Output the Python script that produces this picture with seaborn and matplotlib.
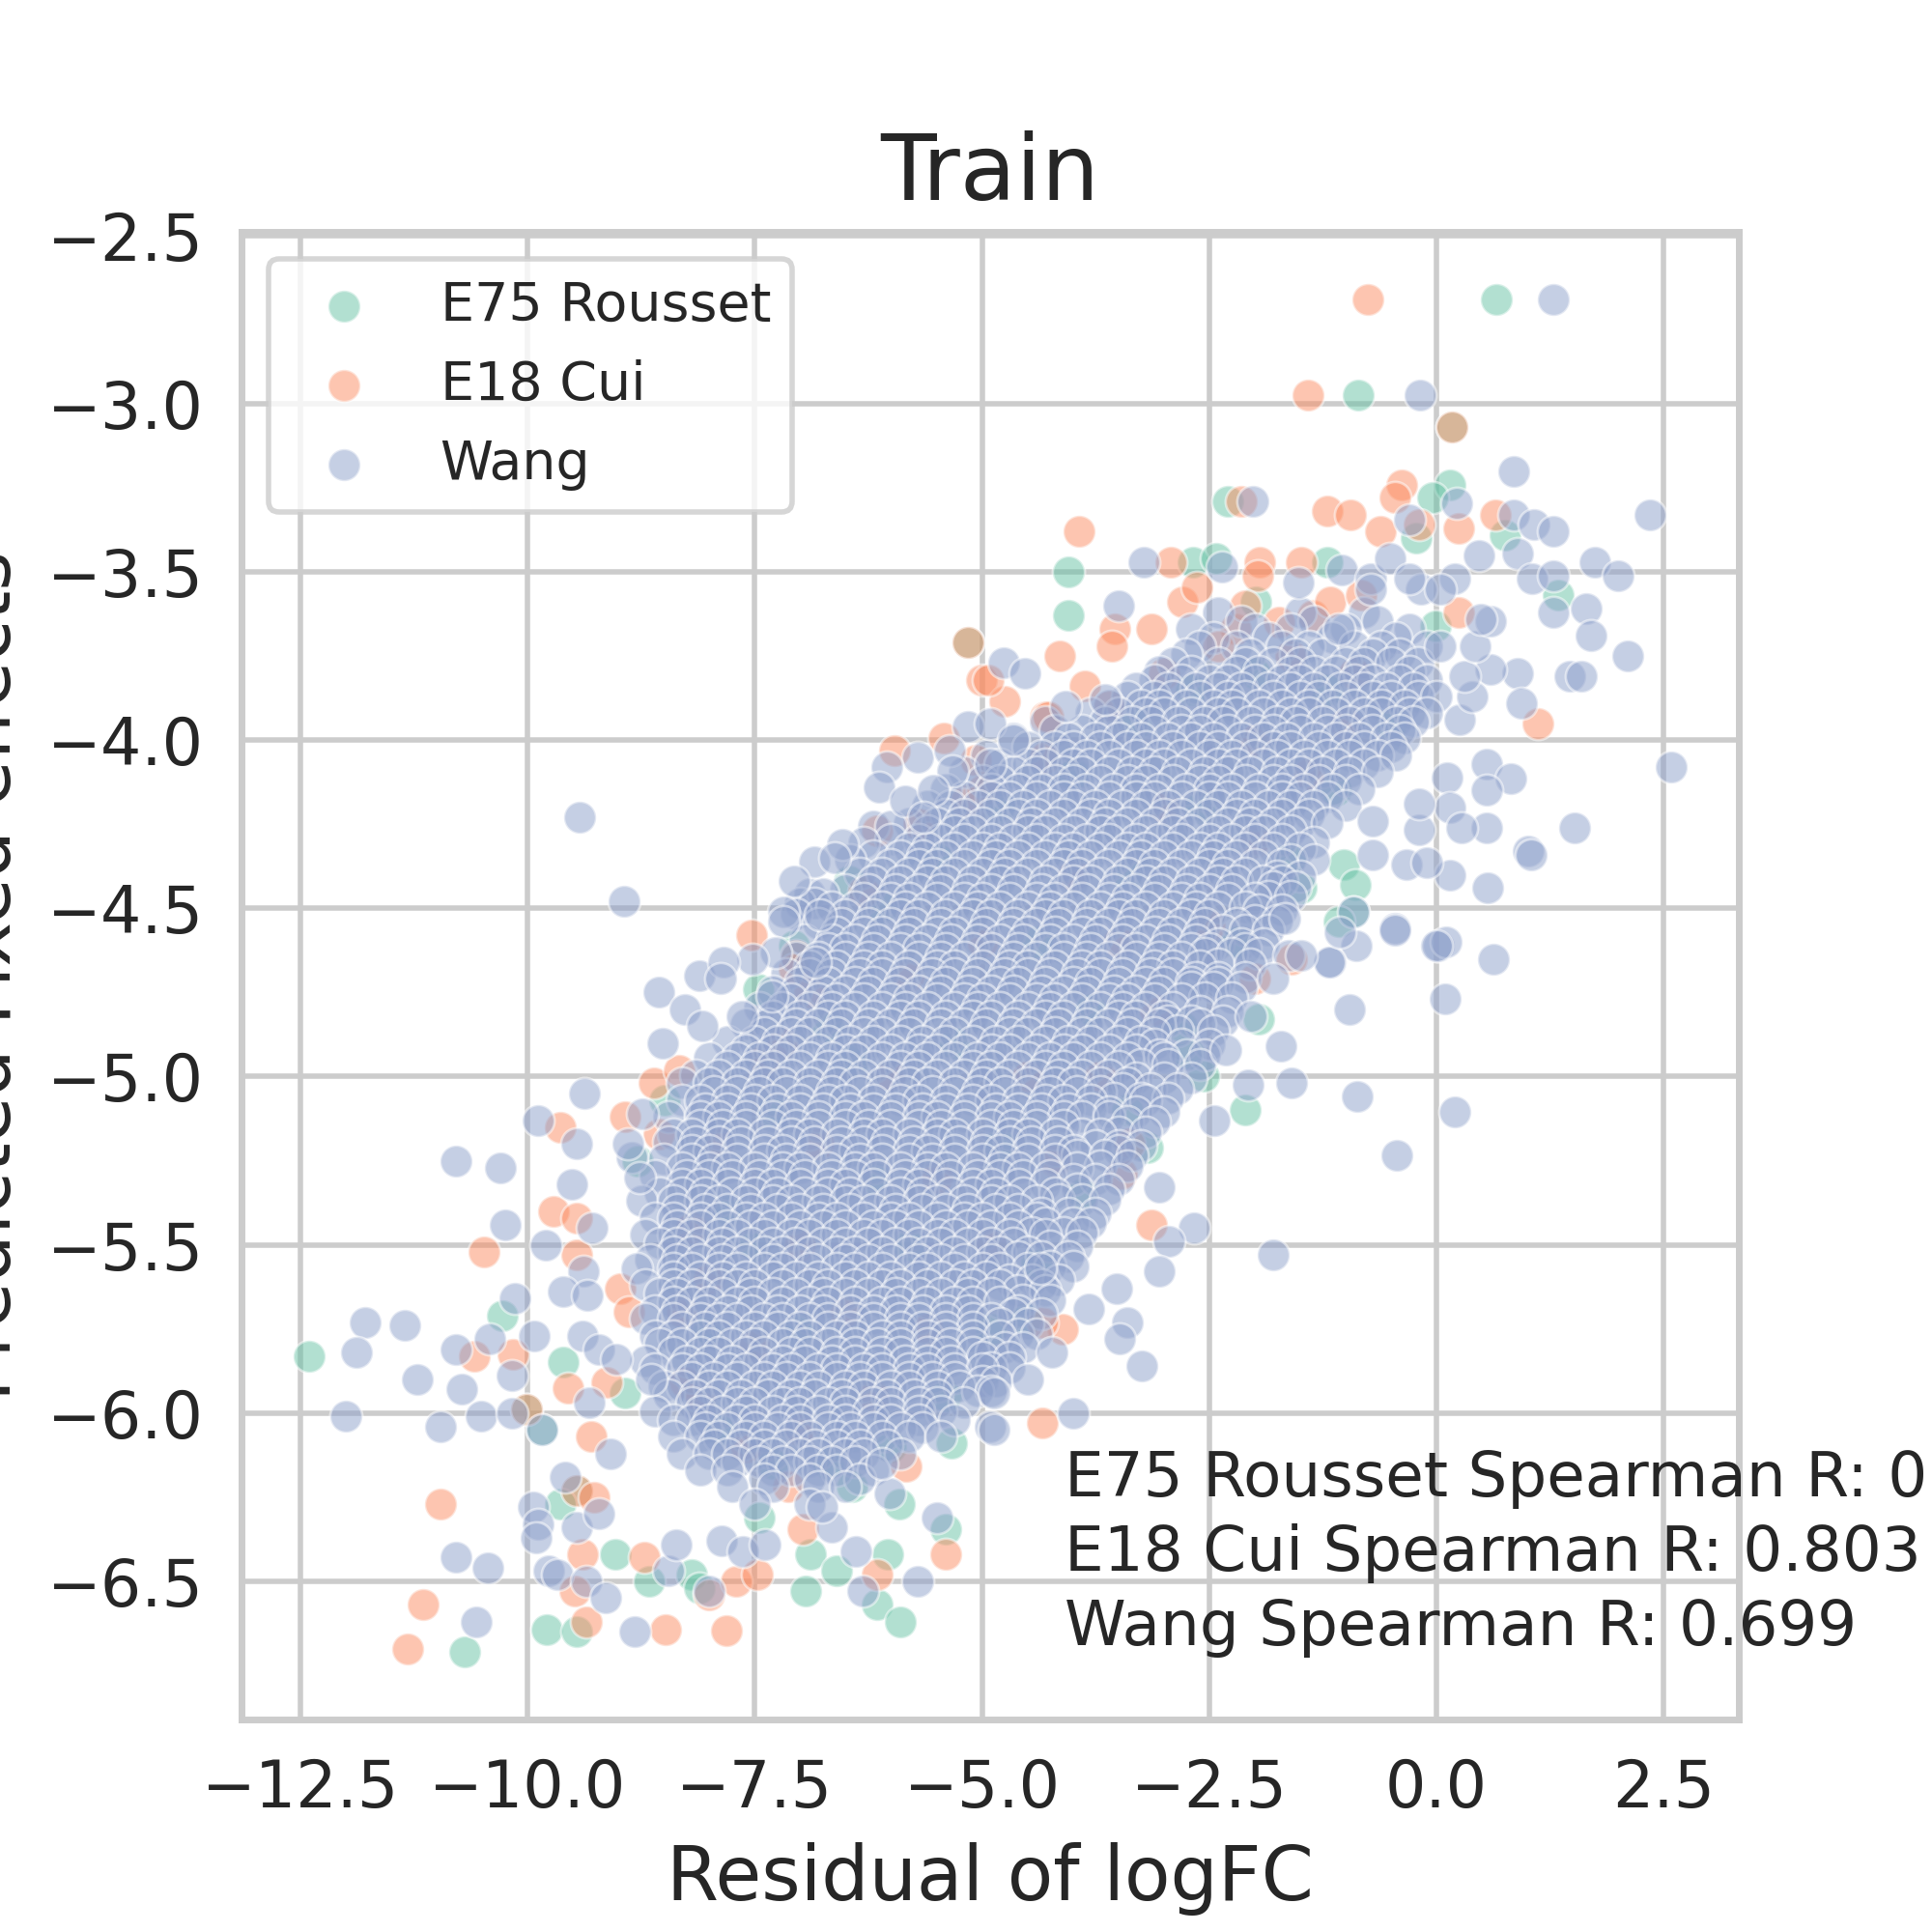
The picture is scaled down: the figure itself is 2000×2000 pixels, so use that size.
import numpy as np
import pandas as pd
import matplotlib
matplotlib.use("Agg")
import matplotlib.pyplot as plt
import seaborn as sns

# values
datasets = ["E75 Rousset", "E18 Cui", "Wang"]
spearman = [0.789, 0.803, 0.699]

# E75 Rousset, scattered points (residual, predicted)
rousset_pts = [
    (-12.40, -5.83), (-10.28, -5.71), (-10.01, -5.99), (-9.84, -6.05), (-9.61, -5.85),
    (-8.93, -5.94), (-9.46, -6.23), (-9.64, -6.27), (-10.69, -6.71), (-9.04, -6.42),
    (-9.79, -6.645), (-9.46, -6.65), (-8.66, -6.50), (-8.19, -6.48), (-8.11, -6.52),
    (-7.45, -6.31), (-6.89, -6.42), (-6.60, -6.47), (-6.94, -6.53), (-6.04, -6.42),
    (-6.15, -6.57), (-5.90, -6.62), (-5.40, -6.345), (-5.91, -6.27), (-6.43, -6.22),
    (-5.33, -6.09), (-8.49, -5.07), (-8.79, -5.25), (-5.15, -3.71), (-4.05, -3.50),
    (-4.05, -3.63), (-6.46, -4.42), (-7.07, -4.61), (-7.46, -4.74), (0.66, -2.69),
    (-0.86, -2.975), (0.175, -3.07), (0.15, -3.24), (-2.29, -3.29), (-0.04, -3.28),
    (-0.22, -3.40), (0.76, -3.39), (1.34, -3.57), (-2.68, -3.47), (-2.42, -3.46),
    (-1.20, -3.47), (-1.99, -3.59), (-0.01, -3.66), (-1.02, -4.37), (-0.89, -4.43),
    (-0.91, -4.51), (-1.07, -4.54), (-1.485, -4.44), (-2.10, -5.10), (-3.18, -5.21),
    (-2.73, -4.93), (-2.56, -5.00), (-1.95, -4.83), (-4.52, -5.72),
    (-6.1, -4.5), (-6.7, -4.85), (-7.3, -5.1), (-7.8, -5.4), (-8.0, -5.75), (-7.9, -6.05),
    (-5.5, -4.35), (-4.8, -4.2), (-4.0, -4.1), (-3.3, -3.95), (-2.7, -3.85), (-2.0, -3.8),
    (-1.2, -3.85), (-0.5, -3.95), (-1.1, -4.15), (-1.6, -4.35), (-2.2, -4.6), (-2.8, -4.85),
    (-3.4, -5.1), (-3.9, -5.35), (-4.4, -5.55), (-4.9, -5.75), (-5.4, -5.95), (-6.0, -6.1),
    (-6.7, -6.15), (-7.3, -6.15), (-6.2, -5.3), (-5.3, -4.9), (-4.4, -4.6), (-3.4, -4.4),
    (-2.6, -4.2), (-7.0, -5.75), (-5.8, -5.5), (-4.8, -5.2), (-3.8, -4.8), (-6.4, -4.95),
    (-7.5, -5.5),
]

# E18 Cui, scattered points
cui_pts = [
    (-10.48, -5.52), (-10.59, -5.83), (-10.16, -5.825), (-10.01, -5.99), (-9.71, -5.40),
    (-9.64, -5.15), (-9.46, -5.42), (-9.46, -5.53), (-8.98, -5.63), (-8.89, -5.70),
    (-9.13, -5.91), (-9.56, -5.925), (-9.30, -6.07), (-8.27, -5.91), (-9.46, -6.23),
    (-9.27, -6.25), (-10.96, -6.27), (-11.15, -6.57), (-11.32, -6.70), (-9.40, -6.42),
    (-9.48, -6.53), (-9.35, -6.62), (-8.48, -6.645), (-7.81, -6.647), (-8.72, -6.43),
    (-8.00, -6.54), (-7.71, -6.50), (-7.47, -6.48), (-6.97, -6.345), (-6.15, -6.48),
    (-5.40, -6.42), (-7.13, -6.22), (-5.83, -6.16), (-8.61, -5.02), (-8.93, -5.12),
    (-8.33, -4.98), (-8.56, -5.17), (-5.15, -3.71), (-5.01, -3.82), (-4.75, -3.885),
    (-4.14, -3.75), (-4.30, -3.93), (-5.96, -4.03), (-5.42, -3.995), (-5.07, -4.06),
    (-5.18, -4.18), (-6.15, -4.27), (-7.54, -4.58), (-7.05, -4.64), (-7.07, -4.68),
    (-0.75, -2.69), (-1.41, -2.975), (0.175, -3.07), (-0.38, -3.24), (-2.15, -3.29),
    (-1.20, -3.32), (-0.94, -3.33), (-0.46, -3.28), (-0.195, -3.36), (0.25, -3.37),
    (0.65, -3.33), (1.12, -3.95), (0.25, -3.62), (-3.93, -3.38), (-4.93, -3.82),
    (-3.87, -3.84), (-4.27, -3.93), (-3.54, -3.67), (-3.57, -3.72), (-3.13, -3.67),
    (-2.92, -3.47), (-2.79, -3.59), (-2.63, -3.545), (-1.94, -3.47), (-1.97, -3.51),
    (-1.49, -3.47), (-2.21, -3.67), (-2.10, -3.60), (-1.73, -3.65), (-1.36, -3.63),
    (-1.17, -3.59), (-0.83, -3.57), (-0.62, -3.38), (-3.13, -5.44), (-4.34, -6.03),
    (-4.11, -5.75), (-4.34, -5.73), (-3.38, -5.20), (-3.46, -5.29), (-1.59, -4.65),
    (-2.00, -4.71),
    (-6.3, -4.45), (-6.9, -4.75), (-7.4, -4.95), (-7.9, -5.2), (-8.2, -5.45), (-8.3, -5.7),
    (-8.1, -5.95), (-5.7, -4.25), (-5.0, -4.15), (-4.3, -4.05), (-3.6, -3.9), (-3.0, -3.8),
    (-2.4, -3.72), (-1.6, -3.75), (-0.9, -3.8), (-7.6, -6.1), (-7.0, -6.05), (-6.2, -5.95),
    (-5.6, -5.75), (-4.9, -5.5), (-4.2, -5.25), (-3.7, -5.0), (-3.1, -4.8), (-2.5, -4.55),
    (-2.0, -4.3), (-1.4, -4.1), (-6.0, -5.0), (-5.0, -4.6), (-7.0, -5.5), (-4.0, -4.4),
    (-3.0, -4.2), (-6.5, -5.7), (-5.5, -5.3), (-4.5, -5.0), (-2.0, -4.0), (-1.0, -3.95),
    (-7.5, -5.8), (-6.8, -5.2), (-5.8, -4.7), (-3.5, -4.6), (-8.0, -5.6), (-7.2, -4.9),
]

# Wang, scattered points around the dense band
wang_pts = [
    (-11.79, -5.73), (-11.35, -5.74), (-11.885, -5.82), (-11.21, -5.90), (-12.0, -6.01),
    (-10.79, -5.25), (-10.30, -5.27), (-10.25, -5.44), (-10.73, -5.93), (-10.79, -5.81),
    (-10.96, -6.04), (-10.51, -6.01), (-10.42, -5.78), (-10.14, -5.66), (-10.17, -5.89),
    (-10.17, -6.00), (-9.84, -6.05), (-9.93, -5.77), (-9.80, -5.50), (-9.51, -5.32),
    (-9.37, -5.05), (-9.88, -5.13), (-9.46, -5.20), (-9.29, -5.45), (-9.39, -5.58),
    (-9.61, -5.64), (-9.34, -5.65), (-9.40, -5.77), (-9.22, -5.81), (-9.02, -5.84),
    (-9.32, -5.97), (-9.09, -6.12), (-8.64, -5.90), (-9.59, -6.19), (-9.94, -6.28),
    (-9.88, -6.33), (-9.91, -6.37), (-9.46, -6.34), (-9.22, -6.30), (-10.79, -6.43),
    (-10.44, -6.46), (-10.57, -6.62), (-9.77, -6.47), (-9.67, -6.48), (-9.35, -6.50),
    (-9.14, -6.55), (-8.82, -6.65), (-8.45, -6.47), (-8.37, -6.39), (-8.00, -6.53),
    (-7.87, -6.38), (-7.63, -6.41), (-7.39, -6.39), (-6.39, -6.41), (-6.31, -6.53),
    (-5.71, -6.50), (-5.49, -6.31), (-6.65, -6.34), (-6.76, -6.28), (-6.02, -6.24),
    (-6.10, -6.15), (-4.91, -6.04), (-8.56, -4.75), (-8.27, -4.80), (-8.08, -4.85),
    (-8.51, -4.90), (-8.11, -4.70), (-8.74, -5.11), (-8.85, -5.24), (-8.77, -5.30),
    (-8.90, -5.20), (-9.43, -4.23), (-8.94, -4.48), (-4.76, -3.77), (-4.53, -3.80),
    (-5.15, -3.96), (-4.91, -3.95), (-4.65, -4.00), (-5.71, -4.05), (-5.36, -4.03),
    (-5.32, -4.09), (-6.05, -4.08), (-6.13, -4.14), (-5.85, -4.18), (-4.91, -4.07),
    (-5.54, -4.15), (-5.64, -4.23), (-6.54, -4.31), (-6.85, -4.36), (-6.62, -4.35),
    (-7.07, -4.42), (-7.19, -4.51), (-7.19, -4.54), (-6.78, -4.52), (-7.27, -4.63),
    (-7.52, -4.65), (-7.84, -4.66), (-7.88, -4.71), (-7.64, -4.82), (-7.31, -4.76),
    (-6.83, -4.66), (1.29, -2.69), (-0.18, -2.975), (0.85, -3.20), (2.35, -3.33),
    (-2.02, -3.29), (-0.30, -3.345), (0.23, -3.295), (0.85, -3.33), (1.07, -3.36),
    (1.29, -3.38), (0.89, -3.445), (0.47, -3.45), (1.05, -3.52), (1.29, -3.51),
    (1.74, -3.47), (2.00, -3.51), (1.29, -3.62), (1.65, -3.61), (1.70, -3.69),
    (2.11, -3.75), (1.47, -3.81), (1.60, -3.81), (0.89, -3.80), (0.60, -3.79),
    (0.94, -3.89), (2.58, -4.08), (0.55, -4.07), (0.12, -4.11), (0.82, -4.115),
    (0.55, -4.15), (0.15, -4.20), (1.52, -4.26), (0.55, -4.26), (0.28, -4.26),
    (1.01, -4.33), (1.04, -4.34), (0.15, -4.40), (0.57, -4.44), (-0.195, -4.265),
    (-0.33, -4.37), (-0.10, -4.365), (-0.46, -4.56), (0.02, -4.61), (0.11, -4.60),
    (0.63, -4.65), (-0.88, -4.61), (-1.17, -4.66), (-0.91, -4.51), (-0.70, -4.34),
    (-0.195, -4.19), (-0.70, -4.24), (0.26, -3.94), (0.39, -3.87), (0.31, -3.81),
    (0.43, -3.72), (0.60, -3.645), (0.49, -3.64), (0.20, -3.52), (-0.17, -3.55),
    (0.04, -3.55), (0.04, -3.72), (-3.50, -3.60), (-3.65, -3.88), (-4.08, -3.90),
    (-3.22, -3.47), (-2.36, -3.485), (-1.04, -3.495), (-1.52, -3.53), (-0.72, -3.52),
    (-1.07, -3.67), (-0.51, -3.46), (-0.72, -3.55), (-0.30, -3.52), (0.10, -4.77),
    (0.20, -5.105), (-0.435, -5.235), (-0.87, -5.06), (-0.96, -4.80), (-0.455, -4.565),
    (0.0, -4.61), (-1.18, -4.66), (-1.06, -4.57), (-1.59, -5.02), (-1.71, -4.91),
    (-2.075, -5.025), (-2.44, -5.13), (-1.79, -5.53), (-2.67, -5.45), (-2.94, -5.49),
    (-3.05, -5.58), (-3.52, -5.63), (-3.40, -5.73), (-3.49, -5.78), (-3.24, -5.86),
    (-3.83, -5.69), (-4.23, -5.82), (-4.50, -5.90), (-4.87, -5.94), (-4.00, -6.00),
    (-4.87, -6.05), (-4.36, -5.57), (-3.05, -5.33), (-2.32, -4.92), (-2.035, -4.82),
    (-1.63, -4.64), (-1.485, -4.64), (-1.79, -4.71), (-1.67, -4.53),
]

# Wang, dense band: predicted value of a row, then residuals read along it
wang_band = [
    (-3.62, [-2.4, -1.5, -0.8]),
    (-3.645, [-2.15, -1.35, -0.65]),
    (-3.67, [-2.7, -2.0, -1.6, -1.0, -0.3]),
    (-3.695, [-2.45, -1.85, -1.15, -0.45]),
    (-3.72, [-2.6, -2.2, -1.7, -1.4, -0.9, -0.6, -0.1]),
    (-3.745, [-2.75, -2.05, -1.55, -1.25, -0.7, -0.4]),
    (-3.77, [-2.9, -2.4, -2.1, -1.8, -1.5, -1.0, -0.8, -0.5, -0.2]),
    (-3.795, [-3.05, -2.7, -2.2, -1.95, -1.6, -1.35, -1.1, -0.85, -0.3]),
    (-3.82, [-3.1, -2.8, -2.5, -2.3, -2.0, -1.7, -1.5, -1.2, -0.9, -0.7, -0.4, -0.1]),
    (-3.845, [-3.3, -2.95, -2.65, -2.4, -2.15, -1.85, -1.6, -1.35, -1.05, -0.8, -0.55, -0.25]),
    (-3.87, [-3.4, -3.1, -2.9, -2.6, -2.3, -2.1, -1.8, -1.5, -1.3, -1.0, -0.7, -0.5, -0.2, 0.0]),
    (-3.895, [-3.6, -3.25, -3.05, -2.75, -2.45, -2.25, -1.95, -1.7, -1.4, -1.15, -0.9, -0.6, -0.35]),
    (-3.92, [-3.8, -3.5, -3.2, -3.0, -2.7, -2.4, -2.2, -1.9, -1.6, -1.4, -1.1, -0.8, -0.6, -0.3, -0.1]),
    (-3.945, [-4.3, -3.65, -3.35, -3.15, -2.85, -2.55, -2.35, -2.05, -1.75, -1.55, -1.25, -0.95, -0.75, -0.45, -0.25]),
    (-3.97, [-4.2, -3.9, -3.6, -3.4, -3.1, -2.8, -2.6, -2.3, -2.0, -1.8, -1.5, -1.2, -1.0, -0.7, -0.4]),
    (-3.995, [-4.65, -4.05, -3.75, -3.5, -3.25, -2.95, -2.7, -2.45, -2.15, -1.9, -1.65, -1.35, -1.1, -0.85, -0.55, -0.35]),
    (-4.02, [-4.5, -4.2, -4.0, -3.7, -3.4, -3.2, -2.9, -2.6, -2.4, -2.1, -1.8, -1.6, -1.3, -1.0, -0.8, -0.5]),
    (-4.045, [-4.95, -4.35, -4.1, -3.85, -3.6, -3.3, -3.05, -2.8, -2.5, -2.25, -2.0, -1.75, -1.45, -1.2, -0.95, -0.65, -0.45]),
    (-4.07, [-4.8, -4.5, -4.3, -4.0, -3.8, -3.5, -3.2, -3.0, -2.7, -2.4, -2.2, -1.9, -1.6, -1.4, -1.1, -0.8]),
    (-4.095, [-5.2, -4.65, -4.4, -4.1, -3.9, -3.6, -3.35, -3.1, -2.85, -2.55, -2.3, -2.05, -1.75, -1.5, -1.25, -0.95, -0.65]),
    (-4.12, [-5.0, -4.8, -4.5, -4.2, -4.0, -3.7, -3.4, -3.2, -2.9, -2.6, -2.4, -2.1, -1.8, -1.6, -1.3, -1.0]),
    (-4.145, [-5.4, -4.9, -4.6, -4.35, -4.1, -3.85, -3.55, -3.3, -3.05, -2.75, -2.5, -2.25, -1.95, -1.7, -1.45, -1.15, -0.85]),
    (-4.17, [-5.2, -4.9, -4.7, -4.4, -4.1, -3.9, -3.6, -3.3, -3.1, -2.8, -2.5, -2.3, -2.0, -1.7, -1.5, -1.2]),
    (-4.195, [-5.6, -5.35, -5.05, -4.8, -4.55, -4.25, -4.0, -3.75, -3.45, -3.2, -2.95, -2.65, -2.4, -2.15, -1.85, -1.6, -1.35, -1.0]),
    (-4.22, [-5.4, -5.2, -4.9, -4.6, -4.4, -4.1, -3.8, -3.6, -3.3, -3.0, -2.8, -2.5, -2.2, -2.0, -1.7, -1.4]),
    (-4.245, [-5.8, -5.5, -5.25, -5.0, -4.7, -4.45, -4.2, -3.9, -3.65, -3.4, -3.1, -2.85, -2.6, -2.3, -2.05, -1.8, -1.5, -1.2]),
    (-4.255, [-6.2, -6.0]),
    (-4.27, [-5.6, -5.3, -5.1, -4.8, -4.5, -4.3, -4.0, -3.7, -3.5, -3.2, -2.9, -2.7, -2.4, -2.1, -1.9, -1.6]),
    (-4.295, [-6.0, -5.7, -5.45, -5.2, -4.9, -4.65, -4.4, -4.1, -3.85, -3.6, -3.3, -3.05, -2.8, -2.5, -2.25, -2.0, -1.7]),
    (-4.305, [-6.3, -1.35]),
    (-4.32, [-5.8, -5.6, -5.3, -5.0, -4.8, -4.5, -4.2, -4.0, -3.7, -3.4, -3.2, -2.9, -2.6, -2.4, -2.1, -1.8, -1.5]),
    (-4.345, [-6.2, -5.9, -5.65, -5.4, -5.1, -4.85, -4.6, -4.3, -4.05, -3.8, -3.5, -3.25, -3.0, -2.7, -2.45, -2.2, -1.9]),
    (-4.355, [-6.45, -1.6, -1.35]),
    (-4.37, [-6.0, -5.7, -5.5, -5.2, -4.9, -4.7, -4.4, -4.1, -3.9, -3.6, -3.3, -3.1, -2.8, -2.5, -2.3, -2.0, -1.7]),
    (-4.395, [-6.35, -6.1, -5.8, -5.55, -5.3, -5.0, -4.75, -4.5, -4.2, -3.95, -3.7, -3.4, -3.15, -2.9, -2.6, -2.35, -2.1]),
    (-4.405, [-1.75, -1.5]),
    (-4.42, [-6.2, -5.9, -5.6, -5.4, -5.1, -4.8, -4.6, -4.3, -4.0, -3.8, -3.5, -3.2, -3.0, -2.7, -2.4, -2.2, -1.9, -1.7]),
    (-4.435, [-1.8, -1.55]),
    (-4.445, [-6.5, -6.25, -5.95, -5.7, -5.45, -5.15, -4.9, -4.65, -4.35, -4.1, -3.85, -3.55, -3.3, -3.05, -2.75, -2.5, -2.25]),
    (-4.455, [-6.9, -6.75]),
    (-4.465, [-1.85, -1.6]),
    (-4.47, [-6.3, -6.0, -5.8, -5.5, -5.2, -5.0, -4.7, -4.4, -4.2, -3.9, -3.6, -3.4, -3.1, -2.8, -2.6, -2.3, -2.0]),
    (-4.485, [-7.0, -6.85]),
    (-4.495, [-6.65, -6.4, -6.1, -5.85, -5.6, -5.3, -5.05, -4.8, -4.5, -4.25, -4.0, -3.7, -3.45, -3.2, -2.9, -2.65, -2.4, -2.1]),
    (-4.505, [-1.95, -1.7]),
    (-4.515, [-7.05]),
    (-4.52, [-6.5, -6.2, -5.9, -5.7, -5.4, -5.1, -4.9, -4.6, -4.3, -4.1, -3.8, -3.5, -3.3, -3.0, -2.7, -2.5]),
    (-4.535, [-2.0, -1.75]),
    (-4.545, [-6.8, -6.55, -6.25, -6.0, -5.75, -5.45, -5.2, -4.95, -4.65, -4.4, -4.15, -3.85, -3.6, -3.35, -3.05, -2.8, -2.55, -2.2]),
    (-4.565, [-2.35, -2.1, -1.85]),
    (-4.57, [-6.6, -6.3, -6.1, -5.8, -5.5, -5.3, -5.0, -4.7, -4.5, -4.2, -3.9, -3.7, -3.4, -3.1, -2.9, -2.6]),
    (-4.595, [-6.95, -6.65, -6.4, -6.15, -5.85, -5.6, -5.35, -5.05, -4.8, -4.55, -4.25, -4.0, -3.75, -3.45, -3.2, -2.95, -2.65]),
    (-4.605, [-2.4, -2.15, -1.9]),
    (-4.62, [-6.7, -6.5, -6.2, -5.9, -5.7, -5.4, -5.1, -4.9, -4.6, -4.3, -4.1, -3.8, -3.5, -3.3, -3.0, -2.7, -2.5, -2.1]),
    (-4.635, [-2.55, -2.25, -1.95]),
    (-4.645, [-7.05, -6.8, -6.5, -6.25, -6.0, -5.7, -5.45, -5.2, -4.9, -4.65, -4.4, -4.1, -3.85, -3.6, -3.3, -3.05, -2.8]),
    (-4.665, [-2.4, -2.05]),
    (-4.67, [-6.9, -6.6, -6.3, -6.1, -5.8, -5.5, -5.3, -5.0, -4.7, -4.5, -4.2, -3.9, -3.7, -3.4, -3.1, -2.9, -2.6]),
    (-4.695, [-7.15, -6.9, -6.65, -6.35, -6.1, -5.85, -5.55, -5.3, -5.05, -4.75, -4.5, -4.25, -3.95, -3.7, -3.45, -3.15, -2.9]),
    (-4.705, [-2.65, -2.4, -2.1]),
    (-4.72, [-7.0, -6.7, -6.4, -6.2, -5.9, -5.6, -5.4, -5.1, -4.8, -4.6, -4.3, -4.0, -3.8, -3.5, -3.2, -3.0, -2.7, -2.4]),
    (-4.735, [-2.7, -2.45, -2.15]),
    (-4.745, [-7.3, -7.05, -6.75, -6.5, -6.25, -5.95, -5.7, -5.45, -5.15, -4.9, -4.65, -4.35, -4.1, -3.85, -3.55, -3.3, -3.05]),
    (-4.765, [-2.55, -2.25]),
    (-4.77, [-7.1, -6.8, -6.6, -6.3, -6.0, -5.8, -5.5, -5.2, -5.0, -4.7, -4.4, -4.2, -3.9, -3.6, -3.4, -3.1, -2.8]),
    (-4.795, [-7.45, -7.2, -6.9, -6.65, -6.4, -6.1, -5.85, -5.6, -5.3, -5.05, -4.8, -4.5, -4.25, -4.0, -3.7, -3.45, -3.2, -2.9]),
    (-4.805, [-2.6, -2.3]),
    (-4.82, [-7.3, -7.0, -6.7, -6.5, -6.2, -5.9, -5.7, -5.4, -5.1, -4.9, -4.6, -4.3, -4.1, -3.8, -3.5, -3.3, -3.0]),
    (-4.835, [-2.95, -2.7, -2.35]),
    (-4.845, [-7.6, -7.35, -7.05, -6.8, -6.55, -6.25, -6.0, -5.75, -5.45, -5.2, -4.95, -4.65, -4.4, -4.15, -3.85, -3.6, -3.35, -3.05, -2.6]),
    (-4.865, [-2.85, -2.45]),
    (-4.87, [-7.4, -7.1, -6.9, -6.6, -6.3, -6.1, -5.8, -5.5, -5.3, -5.0, -4.7, -4.5, -4.2, -3.9, -3.7, -3.4, -3.1]),
    (-4.895, [-7.8, -7.5, -7.25, -7.0, -6.7, -6.45, -6.2, -5.9, -5.65, -5.4, -5.1, -4.85, -4.6, -4.3, -4.05, -3.8, -3.5, -3.25]),
    (-4.905, [-3.1, -2.8, -2.5]),
    (-4.92, [-7.6, -7.3, -7.1, -6.8, -6.5, -6.3, -6.0, -5.7, -5.5, -5.2, -4.9, -4.7, -4.4, -4.1, -3.9, -3.6, -3.3]),
    (-4.935, [-3.05, -2.75, -2.55]),
    (-4.945, [-8.0, -7.7, -7.45, -7.2, -6.9, -6.65, -6.4, -6.1, -5.85, -5.6, -5.3, -5.05, -4.8, -4.5, -4.25, -4.0, -3.7, -3.4, -3.0]),
    (-4.965, [-3.25, -2.95, -2.6]),
    (-4.97, [-7.8, -7.5, -7.3, -7.0, -6.7, -6.5, -6.2, -5.9, -5.7, -5.4, -5.1, -4.9, -4.6, -4.3, -4.1, -3.8, -3.5]),
    (-4.995, [-8.15, -7.9, -7.6, -7.35, -7.1, -6.8, -6.55, -6.3, -6.0, -5.75, -5.5, -5.2, -4.95, -4.7, -4.4, -4.15, -3.9, -3.6]),
    (-5.005, [-3.3, -3.0, -2.7]),
    (-5.02, [-8.3, -8.0, -7.7, -7.4, -7.2, -6.9, -6.6, -6.4, -6.1, -5.8, -5.6, -5.3, -5.0, -4.8, -4.5, -4.2, -4.0, -3.7, -3.4]),
    (-5.035, [-3.45, -3.15, -2.85]),
    (-5.045, [-7.95, -7.7, -7.45, -7.15, -6.9, -6.65, -6.35, -6.1, -5.85, -5.55, -5.3, -5.05, -4.75, -4.5, -4.25, -3.95, -3.7]),
    (-5.065, [-3.55, -3.25, -2.95]),
    (-5.07, [-8.3, -8.1, -7.8, -7.5, -7.3, -7.0, -6.7, -6.5, -6.2, -5.9, -5.7, -5.4, -5.1, -4.9, -4.6, -4.3, -4.1, -3.8, -3.2]),
    (-5.095, [-8.05, -7.8, -7.55, -7.25, -7.0, -6.75, -6.45, -6.2, -5.95, -5.65, -5.4, -5.15, -4.85, -4.6, -4.35, -4.05, -3.8]),
    (-5.105, [-3.6, -3.3, -3.0]),
    (-5.12, [-8.45, -8.1, -7.9, -7.6, -7.3, -7.1, -6.8, -6.5, -6.3, -6.0, -5.7, -5.5, -5.2, -4.9, -4.7, -4.4, -4.1, -3.9, -3.6]),
    (-5.135, [-3.4, -3.1]),
    (-5.145, [-8.1, -7.85, -7.6, -7.3, -7.05, -6.8, -6.5, -6.25, -6.0, -5.7, -5.45, -5.2, -4.9, -4.65, -4.4, -4.1]),
    (-5.165, [-3.5, -3.2]),
    (-5.17, [-8.4, -8.2, -7.9, -7.7, -7.4, -7.1, -6.9, -6.6, -6.3, -6.1, -5.8, -5.5, -5.3, -5.0, -4.7, -4.5, -4.2, -3.9, -3.7]),
    (-5.195, [-8.45, -8.15, -7.9, -7.65, -7.35, -7.1, -6.85, -6.55, -6.3, -6.05, -5.75, -5.5, -5.25, -4.95, -4.7, -4.45, -4.15]),
    (-5.205, [-3.75, -3.5, -3.25]),
    (-5.22, [-8.2, -8.0, -7.7, -7.4, -7.2, -6.9, -6.6, -6.4, -6.1, -5.8, -5.6, -5.3, -5.0, -4.8, -4.5, -4.2, -4.0, -3.5]),
    (-5.235, [-3.95, -3.65, -3.35]),
    (-5.245, [-8.5, -8.2, -7.95, -7.7, -7.4, -7.15, -6.9, -6.6, -6.35, -6.1, -5.8, -5.55, -5.3, -5.0, -4.75, -4.5, -4.2]),
    (-5.265, [-3.7, -3.4]),
    (-5.27, [-8.3, -8.0, -7.8, -7.5, -7.2, -7.0, -6.7, -6.4, -6.2, -5.9, -5.6, -5.4, -5.1, -4.8, -4.6, -4.3, -3.95]),
    (-5.295, [-8.6, -8.25, -8.0, -7.75, -7.45, -7.2, -6.95, -6.65, -6.4, -6.15, -5.85, -5.6, -5.35, -5.05, -4.8, -4.55, -4.25]),
    (-5.305, [-4.0, -3.75, -3.5]),
    (-5.32, [-8.3, -8.1, -7.8, -7.5, -7.3, -7.0, -6.7, -6.5, -6.2, -5.9, -5.7, -5.4, -5.1, -4.9, -4.6, -4.3]),
    (-5.335, [-3.95, -3.6]),
    (-5.345, [-8.55, -8.3, -8.05, -7.75, -7.5, -7.25, -6.95, -6.7, -6.45, -6.15, -5.9, -5.65, -5.35, -5.1, -4.85, -4.55, -4.2]),
    (-5.365, [-4.15, -3.9, -3.65]),
    (-5.37, [-8.75, -8.4, -8.1, -7.9, -7.6, -7.3, -7.1, -6.8, -6.5, -6.3, -6.0, -5.7, -5.5, -5.2, -4.9, -4.7, -4.4]),
    (-5.395, [-8.35, -8.05, -7.8, -7.55, -7.25, -7.0, -6.75, -6.45, -6.2, -5.95, -5.65, -5.4, -5.15, -4.85, -4.6]),
    (-5.405, [-4.35, -4.05, -3.75]),
    (-5.42, [-8.6, -8.4, -8.1, -7.9, -7.6, -7.4, -7.1, -6.8, -6.6, -6.3, -6.0, -5.8, -5.5, -5.2, -5.0, -4.7, -4.4]),
    (-5.435, [-4.3, -4.0, -3.8]),
    (-5.445, [-8.35, -8.1, -7.8, -7.55, -7.3, -7.0, -6.75, -6.5, -6.2, -5.95, -5.7, -5.4, -5.15, -4.9, -4.6]),
    (-5.465, [-4.45, -4.1, -3.9]),
    (-5.47, [-8.7, -8.4, -8.2, -7.9, -7.7, -7.4, -7.1, -6.9, -6.6, -6.3, -6.1, -5.8, -5.5, -5.3, -5.0, -4.7, -4.3]),
    (-5.495, [-8.55, -8.35, -8.1, -7.85, -7.55, -7.3, -7.05, -6.75, -6.5, -6.25, -5.95, -5.7, -5.45, -5.15, -4.9, -4.65]),
    (-5.505, [-4.25, -3.95]),
    (-5.52, [-8.4, -8.2, -7.9, -7.7, -7.4, -7.2, -6.9, -6.6, -6.4, -6.1, -5.8, -5.6, -5.3, -5.0, -4.8, -4.5]),
    (-5.535, [-4.6, -4.35, -4.05]),
    (-5.545, [-8.65, -8.35, -8.1, -7.85, -7.6, -7.3, -7.05, -6.8, -6.5, -6.25, -6.0, -5.7, -5.45, -5.2, -4.9]),
    (-5.565, [-4.25, -4.0]),
    (-5.57, [-8.8, -8.4, -8.2, -7.9, -7.7, -7.4, -7.2, -6.9, -6.6, -6.4, -6.1, -5.8, -5.6, -5.3, -5.0, -4.8, -4.5]),
    (-5.595, [-8.4, -8.1, -7.85, -7.6, -7.3, -7.05, -6.8, -6.5, -6.25, -6.0, -5.7, -5.45, -5.2, -4.95]),
    (-5.605, [-4.7, -4.45, -4.15]),
    (-5.62, [-8.7, -8.4, -8.2, -7.9, -7.7, -7.5, -7.2, -6.9, -6.7, -6.4, -6.1, -5.9, -5.6, -5.3, -5.1, -4.8, -4.35]),
    (-5.635, [-4.6, -4.3]),
    (-5.645, [-8.55, -8.35, -8.1, -7.85, -7.55, -7.3, -7.05, -6.75, -6.5, -6.25, -5.95, -5.7, -5.45, -5.15, -4.9]),
    (-5.665, [-4.55, -4.25]),
    (-5.67, [-8.4, -8.2, -8.0, -7.7, -7.5, -7.2, -6.9, -6.7, -6.4, -6.1, -5.9, -5.6, -5.3, -5.1, -4.8]),
    (-5.695, [-8.6, -8.35, -8.05, -7.8, -7.55, -7.25, -7.0, -6.75, -6.45, -6.2, -5.95, -5.65, -5.4, -5.15, -4.6]),
    (-5.705, [-4.65, -4.35]),
    (-5.72, [-8.7, -8.4, -8.1, -7.9, -7.7, -7.4, -7.2, -6.9, -6.7, -6.4, -6.2, -5.9, -5.7, -5.4, -5.1, -4.9]),
    (-5.735, [-4.8, -4.5]),
    (-5.745, [-8.3, -8.05, -7.8, -7.5, -7.25, -7.0, -6.7, -6.45, -6.2, -5.9, -5.65, -5.4, -5.1]),
    (-5.765, [-4.6, -4.4]),
    (-5.77, [-8.6, -8.4, -8.1, -7.9, -7.6, -7.4, -7.1, -6.9, -6.6, -6.4, -6.1, -5.9, -5.6, -5.4, -5.1, -4.8]),
    (-5.795, [-8.55, -8.3, -8.0, -7.75, -7.5, -7.2, -6.95, -6.7, -6.4, -6.15, -5.9, -5.6, -5.35, -5.1]),
    (-5.805, [-4.75, -4.55]),
    (-5.82, [-8.4, -8.1, -7.9, -7.6, -7.4, -7.1, -6.9, -6.6, -6.4, -6.1, -5.9, -5.6, -5.4, -5.1, -4.9]),
    (-5.835, [-5.0, -4.7]),
    (-5.845, [-8.7, -8.25, -8.0, -7.75, -7.45, -7.2, -6.95, -6.65, -6.4, -6.15, -5.85, -5.6, -5.35]),
    (-5.865, [-4.9, -4.7]),
    (-5.87, [-8.6, -8.3, -8.1, -7.8, -7.6, -7.3, -7.1, -6.8, -6.6, -6.3, -6.1, -5.8, -5.6, -5.3, -5.0]),
    (-5.895, [-8.2, -7.95, -7.7, -7.4, -7.15, -6.9, -6.6, -6.35, -6.1, -5.8, -5.55, -5.3]),
    (-5.905, [-5.0, -4.85]),
    (-5.92, [-8.5, -8.3, -8.0, -7.8, -7.5, -7.3, -7.0, -6.8, -6.5, -6.3, -6.0, -5.8, -5.5, -5.25]),
    (-5.935, [-5.05, -4.9]),
    (-5.945, [-8.45, -8.15, -7.9, -7.65, -7.35, -7.1, -6.85, -6.55, -6.3, -6.05, -5.75, -5.5]),
    (-5.97, [-8.2, -8.0, -7.7, -7.5, -7.2, -7.0, -6.7, -6.5, -6.2, -6.0, -5.7, -5.5, -5.2]),
    (-5.995, [-8.6, -8.1, -7.85, -7.6, -7.3, -7.05, -6.8, -6.5, -6.25, -6.0, -5.7, -5.45]),
    (-6.02, [-8.4, -8.2, -8.0, -7.7, -7.5, -7.2, -7.0, -6.7, -6.5, -6.2, -6.0, -5.7, -5.3]),
    (-6.045, [-8.05, -7.8, -7.5, -7.25, -7.0, -6.7, -6.45, -6.2, -5.9, -5.65]),
    (-6.07, [-8.4, -8.1, -7.9, -7.6, -7.4, -7.1, -6.9, -6.6, -6.4, -6.1, -5.8, -5.45]),
    (-6.095, [-7.95, -7.65, -7.4, -7.15, -6.85, -6.6, -6.35, -6.05]),
    (-6.12, [-8.3, -8.0, -7.8, -7.5, -7.3, -7.0, -6.8, -6.5, -6.3, -5.9]),
    (-6.145, [-7.7, -7.45, -7.2, -6.9, -6.65, -6.4]),
    (-6.17, [-8.1, -7.8, -7.3, -7.1, -6.8, -6.6, -6.2]),
    (-6.195, [-7.4, -6.9, -6.35]),
    (-6.22, [-7.75, -7.3, -6.8, -6.5]),
    (-6.27, [-7.5, -6.9]),
]


def to_frame(pts, name):
    df = pd.DataFrame(pts, columns=["residual", "predicted"])
    df["dataset"] = name
    return df


band_pts = [(x, y) for y, xs in wang_band for x in xs]
frames = {
    "E75 Rousset": to_frame(rousset_pts, "E75 Rousset"),
    "E18 Cui": to_frame(cui_pts, "E18 Cui"),
    "Wang": to_frame(band_pts + wang_pts, "Wang"),
}

sns.set_theme(style="whitegrid")
palette = sns.color_palette("Set2", 3)

fig, ax = plt.subplots(figsize=(5, 5))
for name, color in zip(datasets, palette):
    sns.scatterplot(data=frames[name], x="residual", y="predicted",
                    color=color, alpha=0.5, label=name, ax=ax)

ax.legend(loc="upper left", fontsize=10)
ax.set_title("Train", fontsize=17)
ax.set_xlabel("Residual of logFC", fontsize=14)
ax.set_ylabel("Predicted Fixed effects", fontsize=14)
ax.tick_params(labelsize=12, length=3.5, pad=3.5)

# one line per dataset, stacked up from the bottom of the axes
for i, (name, r) in enumerate(zip(datasets, spearman)):
    ax.text(0.55, 0.15 - 0.05 * i, f"{name} Spearman R: {r:.3f}",
            transform=ax.transAxes, fontsize=11.6)

fig.savefig("out.png", dpi=400)
